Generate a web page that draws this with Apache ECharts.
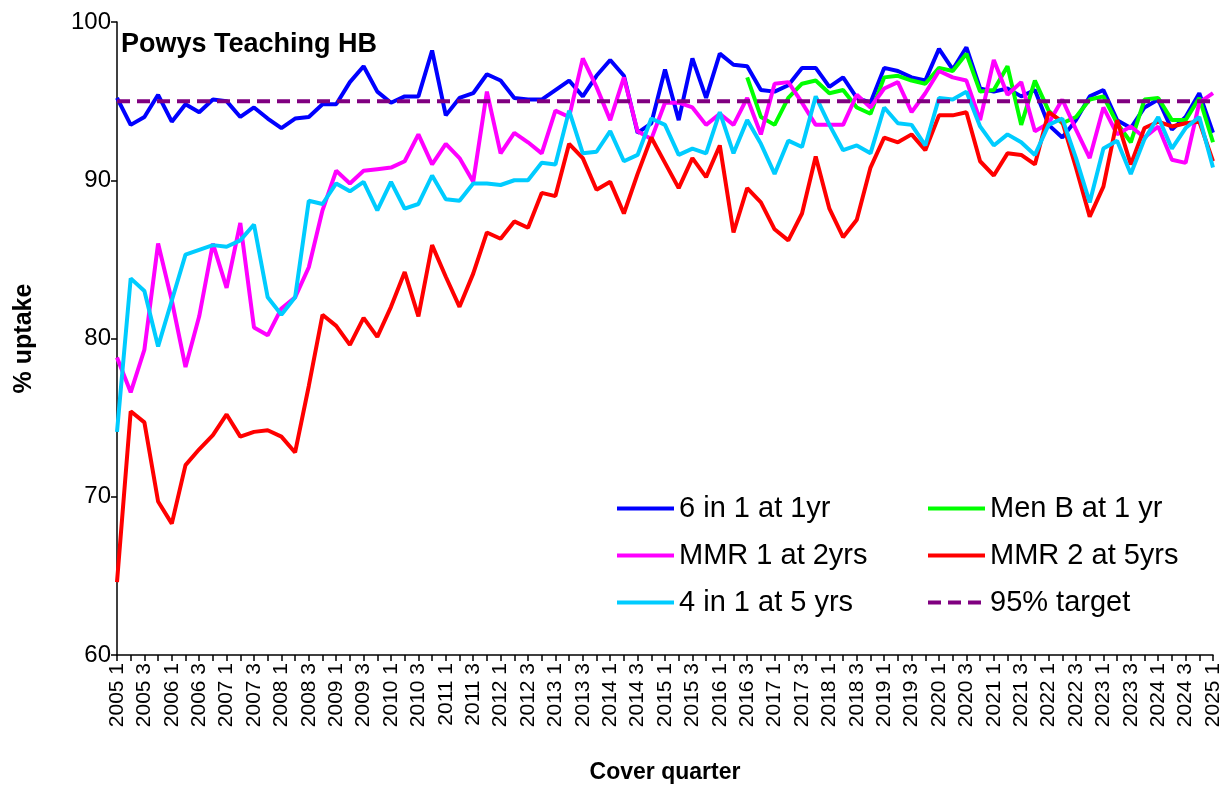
<!DOCTYPE html>
<html>
<head>
<meta charset="utf-8">
<title>Powys Teaching HB - uptake</title>
<script src="https://cdn.jsdelivr.net/npm/echarts@6/dist/echarts.min.js"></script>
<style>
  html, body { margin: 0; padding: 0; background: #fff; }
  #chart { width: 1227px; height: 794px; }
</style>
</head>
<body>
<div id="chart"></div>
<script>
// quarters 2005 1 .. 2025 1
var quarters = [];
for (var y = 2005; y <= 2025; y++) {
  for (var q = 1; q <= 4; q++) {
    if (y === 2025 && q > 1) break;
    quarters.push(y + ' ' + q);
  }
}

var sixInOne = [95.2,93.5,94.0,95.4,93.7,94.8,94.3,95.1,95.0,94.0,
  94.6,93.9,93.3,93.9,94.0,94.8,94.8,96.2,97.2,95.6,
  94.9,95.3,95.3,98.2,94.1,95.2,95.5,96.7,96.3,95.2,
  95.1,95.1,95.7,96.3,95.3,96.6,97.6,96.6,93.0,93.6,
  97.0,93.8,97.7,95.2,98.0,97.3,97.2,95.7,95.6,96.0,
  97.1,97.1,95.9,96.5,95.2,94.9,97.1,96.9,96.5,96.3,
  98.3,97.0,98.4,95.8,95.6,95.8,95.3,95.7,93.5,92.7,
  93.8,95.3,95.7,93.8,93.3,94.6,95.1,93.2,94.0,95.5,
  93.0];

// Men B starts at 2016 3
var menBStart = '2016 3';
var menB = [96.5,94.0,93.5,95.2,96.1,96.3,95.5,95.7,94.6,94.2,
  96.5,96.6,96.3,96.1,97.1,96.9,98.0,95.6,95.7,97.2,
  93.5,96.3,94.4,93.6,94.0,95.1,95.3,93.6,92.4,95.1,
  95.2,93.8,93.8,95.2,92.4];

var mmr1 = [78.8,76.6,79.3,86.0,82.4,78.2,81.4,86.0,83.2,87.3,
  80.7,80.2,81.9,82.6,84.5,88.1,90.6,89.8,90.6,90.7,
  90.8,91.2,92.9,91.0,92.3,91.4,89.9,95.6,91.7,93.0,
  92.4,91.7,94.4,94.0,97.7,95.9,93.8,96.5,93.1,92.6,
  94.9,94.9,94.6,93.5,94.2,93.5,95.2,92.9,96.1,96.2,
  94.9,93.5,93.5,93.5,95.4,94.6,95.8,96.2,94.3,95.5,
  96.9,96.5,96.3,93.8,97.6,95.4,96.2,93.1,93.6,95.1,
  93.2,91.4,94.6,92.9,93.4,92.7,93.4,91.3,91.1,94.9,
  95.5];

var mmr2 = [64.6,75.4,74.7,69.7,68.3,72.0,73.0,73.9,75.2,73.8,
  74.1,74.2,73.8,72.8,77.0,81.5,80.8,79.6,81.3,80.1,
  82.0,84.2,81.4,85.9,83.9,82.0,84.1,86.7,86.3,87.4,
  87.0,89.2,89.0,92.3,91.4,89.4,89.9,87.9,90.4,92.7,
  91.1,89.5,91.4,90.2,92.2,86.7,89.5,88.6,86.9,86.2,
  87.9,91.5,88.2,86.4,87.5,90.8,92.7,92.4,92.9,91.9,
  94.1,94.1,94.3,91.2,90.3,91.7,91.6,91.0,94.3,93.7,
  90.8,87.7,89.6,93.8,91.0,93.3,93.7,93.4,93.6,93.7,
  91.2];

var fourInOne = [74.1,83.8,83.0,79.5,82.4,85.3,85.6,85.9,85.8,86.2,
  87.2,82.6,81.5,82.6,88.7,88.5,89.8,89.3,89.9,88.1,
  89.9,88.2,88.5,90.3,88.8,88.7,89.8,89.8,89.7,90.0,
  90.0,91.1,91.0,94.4,91.7,91.8,93.1,91.2,91.6,93.9,
  93.5,91.6,92.0,91.7,94.3,91.7,93.8,92.3,90.4,92.5,
  92.1,95.3,93.5,91.9,92.2,91.7,94.6,93.6,93.5,92.2,
  95.2,95.1,95.6,93.4,92.2,92.9,92.4,91.6,93.5,93.9,
  91.4,88.6,92.0,92.5,90.4,92.6,94.0,92.0,93.3,94.0,
  90.8];

var target = 95;
var yTicks = [60, 70, 80, 90, 100];

var FONT = '"Liberation Sans", Arial, Helvetica, sans-serif';

var menBData = menB.map(function (v, i) {
  return [quarters[quarters.indexOf(menBStart) + i], v];
});
var targetData = [[quarters[0], target], [quarters[quarters.length - 1], target]];

function lineSeries(name, data, color, type) {
  return {
    name: name,
    type: 'line',
    data: data,
    symbol: 'none',
    color: color,
    lineStyle: { color: color, width: 4, type: type || 'solid' },
    emphasis: { disabled: true }
  };
}

// legend: line only, no marker
function legendCol(left, names) {
  return {
    orient: 'vertical', left: left, top: 494, padding: 0,
    itemWidth: 57, itemHeight: 14, itemGap: 18,
    itemStyle: { opacity: 0 },
    lineStyle: { width: 4 },
    textStyle: { fontSize: 29, color: '#000', fontFamily: FONT, lineHeight: 28 },
    data: names
  };
}

var myChart = echarts.init(document.getElementById('chart'));
myChart.setOption({
  animation: false,
  backgroundColor: '#fff',
  textStyle: { fontFamily: FONT, color: '#000' },
  title: {
    text: 'Powys Teaching HB',
    left: 121,
    top: 31,
    padding: 0,
    textStyle: { fontSize: 27, fontWeight: 'bold', color: '#000', fontFamily: FONT }
  },
  legend: [
    legendCol(615, ['6 in 1 at 1yr', 'MMR 1 at 2yrs', '4 in 1 at 5 yrs']),
    legendCol(926, ['Men B at 1 yr', 'MMR 2 at 5yrs', '95% target'])
  ],
  grid: { left: 117, right: 14, top: 22, bottom: 139 },
  xAxis: {
    type: 'category',
    data: quarters,
    boundaryGap: false,
    name: 'Cover quarter',
    nameLocation: 'middle',
    nameGap: 106,
    nameTextStyle: { fontSize: 23, fontWeight: 'bold', color: '#000', fontFamily: FONT },
    axisLine: { lineStyle: { color: '#000', width: 1.5 } },
    axisTick: { interval: 0, length: 6, lineStyle: { color: '#000', width: 1.5 } },
    axisLabel: { interval: 1, rotate: 90, fontSize: 21, color: '#000', margin: 8 },
    splitLine: { show: false }
  },
  yAxis: {
    type: 'value',
    min: yTicks[0],
    max: yTicks[yTicks.length - 1],
    interval: 10,
    name: '% uptake',
    nameLocation: 'middle',
    nameRotate: 90,
    nameGap: 80,
    nameTextStyle: { fontSize: 25, fontWeight: 'bold', color: '#000', fontFamily: FONT },
    axisLine: { show: true, lineStyle: { color: '#000', width: 1.5 } },
    axisTick: { show: true, length: 6, lineStyle: { color: '#000', width: 1.5 } },
    axisLabel: { fontSize: 24, color: '#000', margin: 6 },
    splitLine: { show: false }
  },
  series: [
    lineSeries('6 in 1 at 1yr', sixInOne, '#0000ff'),
    lineSeries('Men B at 1 yr', menBData, '#00ff00'),
    lineSeries('MMR 1 at 2yrs', mmr1, '#ff00ff'),
    lineSeries('MMR 2 at 5yrs', mmr2, '#ff0000'),
    lineSeries('4 in 1 at 5 yrs', fourInOne, '#00ccff'),
    lineSeries('95% target', targetData, '#800080', [13, 7])
  ]
});
</script>
</body>
</html>
